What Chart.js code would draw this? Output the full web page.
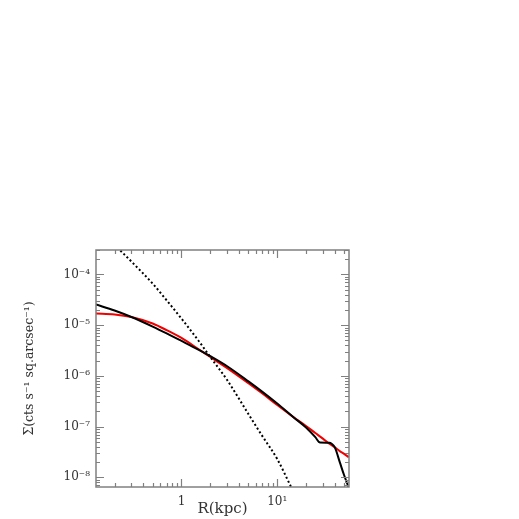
<!DOCTYPE html>
<html>
<head>
<meta charset="utf-8">
<script src="https://cdn.jsdelivr.net/npm/chart.js@4/dist/chart.umd.min.js"></script>
<style>
  html, body { margin: 0; padding: 0; background: #fff; }
  #wrap { width: 519px; height: 519px; }
</style>
</head>
<body>
<div id="wrap"><canvas id="profile"></canvas></div>
<script>
// Surface brightness profile
const xData = [0.128, 0.2, 0.3, 0.5, 0.7, 1, 1.5, 2, 3, 5, 7, 10, 15, 20, 25, 28, 35, 37, 40, 45, 50, 56];
const yData = [2.56e-5, 1.95e-5, 1.45e-5, 9.4e-6, 6.9e-6, 4.9e-6, 3.3e-6, 2.45e-6, 1.55e-6, 7.8e-7, 4.85e-7, 2.85e-7, 1.5e-7, 9.6e-8, 6.2e-8, 4.85e-8, 4.8e-8, 4.6e-8, 3.9e-8, 2.0e-8, 1.1e-8, 6.2e-9];

// beta model fit (red)
const xModel = [0.128, 0.2, 0.3, 0.5, 0.7, 1, 1.5, 2, 3, 5, 7, 10, 15, 20, 25, 30, 35, 40, 45, 50, 56];
const yModel = [1.70e-5, 1.63e-5, 1.45e-5, 1.08e-5, 8.0e-6, 5.6e-6, 3.4e-6, 2.36e-6, 1.43e-6, 7.2e-7, 4.5e-7, 2.67e-7, 1.51e-7, 1.03e-7, 7.5e-8, 5.8e-8, 4.6e-8, 3.9e-8, 3.3e-8, 2.9e-8, 2.5e-8];

// PSF (dotted)
const xPsf = [0.23, 0.3, 0.5, 0.7, 1, 1.5, 2, 3, 5, 7, 10, 14];
const yPsf = [2.97e-4, 1.80e-4, 6.6e-5, 3.1e-5, 1.35e-5, 5.0e-6, 2.36e-6, 8.3e-7, 1.77e-7, 6.5e-8, 2.3e-8, 6.4e-9];

// axis ranges
const xMin = 0.128, xMax = 56.2;
const yMin = 6.46e-9, yMax = 3.04e-4;
const xDecades = [-1, 0, 1];
const yDecades = [-9, -8, -7, -6, -5, -4, -3];

const supMap = { '-': '⁻', '0': '⁰', '1': '¹', '2': '²', '3': '³', '4': '⁴', '5': '⁵', '6': '⁶', '7': '⁷', '8': '⁸', '9': '⁹' };
function powLabel(v) {
    const e = Math.round(Math.log10(v));
    if (e === 0) return '1';
    return '10' + String(e).split('').map(c => supMap[c]).join('');
}

function logTicks(decades, lo, hi) {
    const out = [];
    decades.forEach(d => {
        for (let m = 1; m <= 9; m++) {
            const v = m * Math.pow(10, d);
            if (v >= lo && v <= hi) out.push({ value: v, major: m === 1 });
        }
    });
    return out;
}

function toPoints(xs, ys) {
    return xs.map((x, i) => ({ x: x, y: ys[i] }));
}

// inward ticks on all four sides + frame
const frameTicks = {
    id: 'frameTicks',
    afterDraw(chart) {
        const { ctx, chartArea: a, scales } = chart;
        ctx.save();
        ctx.strokeStyle = '#808080';
        ctx.lineWidth = 1.2;
        ctx.beginPath();
        scales.x.ticks.forEach(t => {
            const px = Math.round(scales.x.getPixelForValue(t.value)) + 0.5;
            const len = t.major ? 8 : 4;
            ctx.moveTo(px, a.bottom); ctx.lineTo(px, a.bottom - len);
            ctx.moveTo(px, a.top); ctx.lineTo(px, a.top + len);
        });
        scales.y.ticks.forEach(t => {
            const py = Math.round(scales.y.getPixelForValue(t.value)) + 0.5;
            const len = t.major ? 8 : 4;
            ctx.moveTo(a.left, py); ctx.lineTo(a.left + len, py);
            ctx.moveTo(a.right, py); ctx.lineTo(a.right - len, py);
        });
        ctx.stroke();
        ctx.lineWidth = 1.5;
        ctx.strokeRect(a.left, a.top, a.right - a.left, a.bottom - a.top);
        ctx.restore();
    }
};

const ctx = document.getElementById('profile').getContext('2d');
const profileChart = new Chart(ctx, {
    type: 'line',
    data: {
        datasets: [
            {
                label: 'PSF',
                data: toPoints(xPsf, yPsf),
                borderColor: '#000',
                borderWidth: 2,
                borderDash: [2, 2.4],
                pointRadius: 0,
                cubicInterpolationMode: 'monotone'
            },
            {
                label: 'data',
                data: toPoints(xData, yData),
                borderColor: '#000',
                borderWidth: 2,
                pointRadius: 0,
                cubicInterpolationMode: 'monotone'
            },
            {
                label: 'model',
                data: toPoints(xModel, yModel),
                borderColor: '#f00000',
                borderWidth: 2,
                pointRadius: 0,
                cubicInterpolationMode: 'monotone'
            }
        ]
    },
    options: {
        responsive: true,
        maintainAspectRatio: false,
        animation: false,
        layout: {
            padding: { left: 0, top: 250, right: 170, bottom: 0 }
        },
        scales: {
            x: {
                type: 'logarithmic',
                min: xMin,
                max: xMax,
                bounds: 'data',
                afterBuildTicks: s => { s.ticks = logTicks(xDecades, xMin, xMax); },
                afterFit: s => { s.height = 32; },
                grid: { display: false, drawTicks: false },
                border: { display: false },
                ticks: {
                    autoSkip: false,
                    maxRotation: 0,
                    padding: 8,
                    color: '#333',
                    font: { family: 'DejaVu Serif', size: 12 },
                    callback: function (v, i, ticks) { return ticks[i].major ? powLabel(v) : ''; }
                },
                title: {
                    display: true,
                    text: 'R(kpc)',
                    color: '#333',
                    font: { family: 'DejaVu Serif', size: 15 },
                    padding: { top: 0, bottom: 1 }
                }
            },
            y: {
                type: 'logarithmic',
                min: yMin,
                max: yMax,
                bounds: 'data',
                afterBuildTicks: s => { s.ticks = logTicks(yDecades, yMin, yMax); },
                afterFit: s => { s.width = 96; },
                grid: { display: false, drawTicks: false },
                border: { display: false },
                ticks: {
                    autoSkip: false,
                    padding: 6,
                    color: '#333',
                    font: { family: 'DejaVu Serif', size: 12 },
                    callback: function (v, i, ticks) { return ticks[i].major ? powLabel(v) : ''; }
                },
                title: {
                    display: true,
                    text: 'Σ(cts s⁻¹ sq.arcsec⁻¹)',
                    color: '#333',
                    font: { family: 'DejaVu Serif', size: 12.5 },
                    padding: { top: 22, bottom: 0 }
                }
            }
        },
        plugins: {
            legend: { display: false },
            tooltip: { enabled: false }
        }
    },
    plugins: [frameTicks]
});
</script>
</body>
</html>
